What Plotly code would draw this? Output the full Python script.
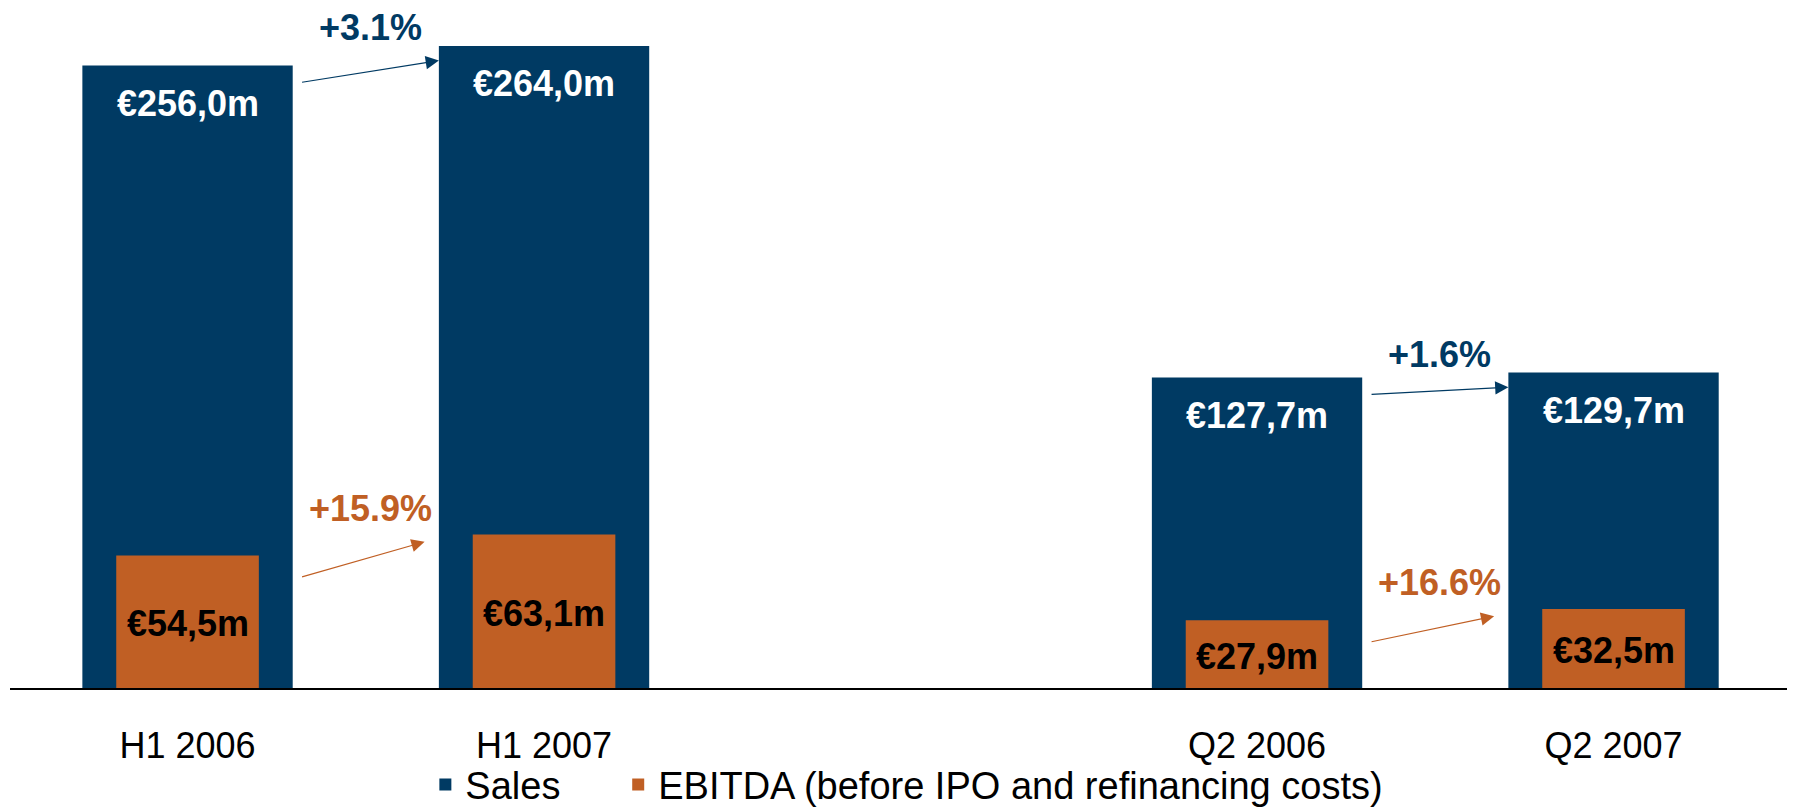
import plotly.graph_objects as go

# ---- data ----
categories = ["H1 2006", "H1 2007", "Q2 2006", "Q2 2007"]
groups = ["H1", "H1", "Q2", "Q2"]
sales = [256.0, 264.0, 127.7, 129.7]
ebitda = [54.5, 63.1, 27.9, 32.5]
sales_growth = ["+3.1%", "+1.6%"]
ebitda_growth = ["+15.9%", "+16.6%"]
series_names = ["Sales", "EBITDA (before IPO and refinancing costs)"]

NAVY = "#003A63"
ORANGE = "#C05F24"
REG = "Liberation Sans, Arial, sans-serif"
BOLD_SIZE = 36

# x positions: one empty slot between the two groups
group_order = list(dict.fromkeys(groups))
xpos = [i + group_order.index(g) for i, g in enumerate(groups)]

def euro(v):
    return "€" + f"{v:.1f}".replace(".", ",") + "m"

SALES_W = 0.59
EBITDA_W = 0.40

fig = go.Figure()
fig.add_bar(x=xpos, y=sales, width=SALES_W, marker=dict(color=NAVY, line=dict(width=0)),
            name=series_names[0] + "\u00a0" * 5, hoverinfo="skip")
fig.add_bar(x=xpos, y=ebitda, width=EBITDA_W, marker=dict(color=ORANGE, line=dict(width=0)),
            name=series_names[1], hoverinfo="skip")

ann = []
# value labels
for x, v in zip(xpos, sales):
    ann.append(dict(x=x, y=v, xref="x", yref="y", text=euro(v), showarrow=False,
                    yshift=-38, yanchor="middle",
                    font=dict(family=REG, size=BOLD_SIZE, color="white", weight="bold")))
for x, v in zip(xpos, ebitda):
    ann.append(dict(x=x, y=v / 2, xref="x", yref="y", text=euro(v), showarrow=False,
                    yshift=-2, yanchor="middle",
                    font=dict(family=REG, size=BOLD_SIZE, color="black", weight="bold")))

# growth arrows and labels (pairs: previous year -> current year)
pairs = [(0, 1), (2, 3)]
for k, (a, b) in enumerate(pairs):
    xa, xb = xpos[a], xpos[b]
    mid = (xa + xb) / 2 + 0.012
    # sales arrow
    ann.append(dict(x=xb - SALES_W / 2, y=sales[b] - 6, ax=xa + SALES_W / 2 + 0.022, ay=sales[a] - 7,
                    xref="x", yref="y", axref="x", ayref="y", text="", showarrow=True,
                    arrowhead=2, arrowsize=2.2, arrowwidth=1.2, arrowcolor=NAVY, standoff=0))
    ann.append(dict(x=mid, y=sales[b], xref="x", yref="y", text=sales_growth[k], showarrow=False,
                    yshift=18, yanchor="middle",
                    font=dict(family=REG, size=BOLD_SIZE, color=NAVY, weight="bold")))
    # ebitda arrow
    ann.append(dict(x=xb - SALES_W / 2 - 0.04, y=ebitda[b] - 3, ax=xa + SALES_W / 2 + 0.022, ay=ebitda[a] - 9,
                    xref="x", yref="y", axref="x", ayref="y", text="", showarrow=True,
                    arrowhead=2, arrowsize=2.2, arrowwidth=1.2, arrowcolor=ORANGE, standoff=0))
    ann.append(dict(x=mid, y=ebitda[b], xref="x", yref="y", text=ebitda_growth[k], showarrow=False,
                    yshift=26, yanchor="middle",
                    font=dict(family=REG, size=BOLD_SIZE, color=ORANGE, weight="bold")))

# page has an 8px body margin, so the figure is sized to fit the window
fig.update_layout(
    template="none",
    barmode="overlay",
    width=1787, height=804,
    margin=dict(l=2, r=0, t=2, b=124),
    paper_bgcolor="white", plot_bgcolor="white",
    font=dict(family=REG, color="black"),
    annotations=ann,
    showlegend=True,
    legend=dict(orientation="h", xref="container", yref="container",
                x=0.503, xanchor="center", y=0.073, yanchor="top",
                font=dict(family=REG, size=38, color="black"),
                bgcolor="rgba(0,0,0,0)"),
)
fig.update_xaxes(range=[-0.498, 4.509], tickmode="array", tickvals=xpos, ticktext=categories,
                 showline=True, linecolor="black", linewidth=2, showgrid=False, zeroline=False,
                 ticks="", ticklabelstandoff=25,
                 tickfont=dict(family=REG, size=36, color="black"))
fig.update_yaxes(range=[0, 278.8], visible=False, showgrid=False, zeroline=False)

fig.write_html("out.html")
